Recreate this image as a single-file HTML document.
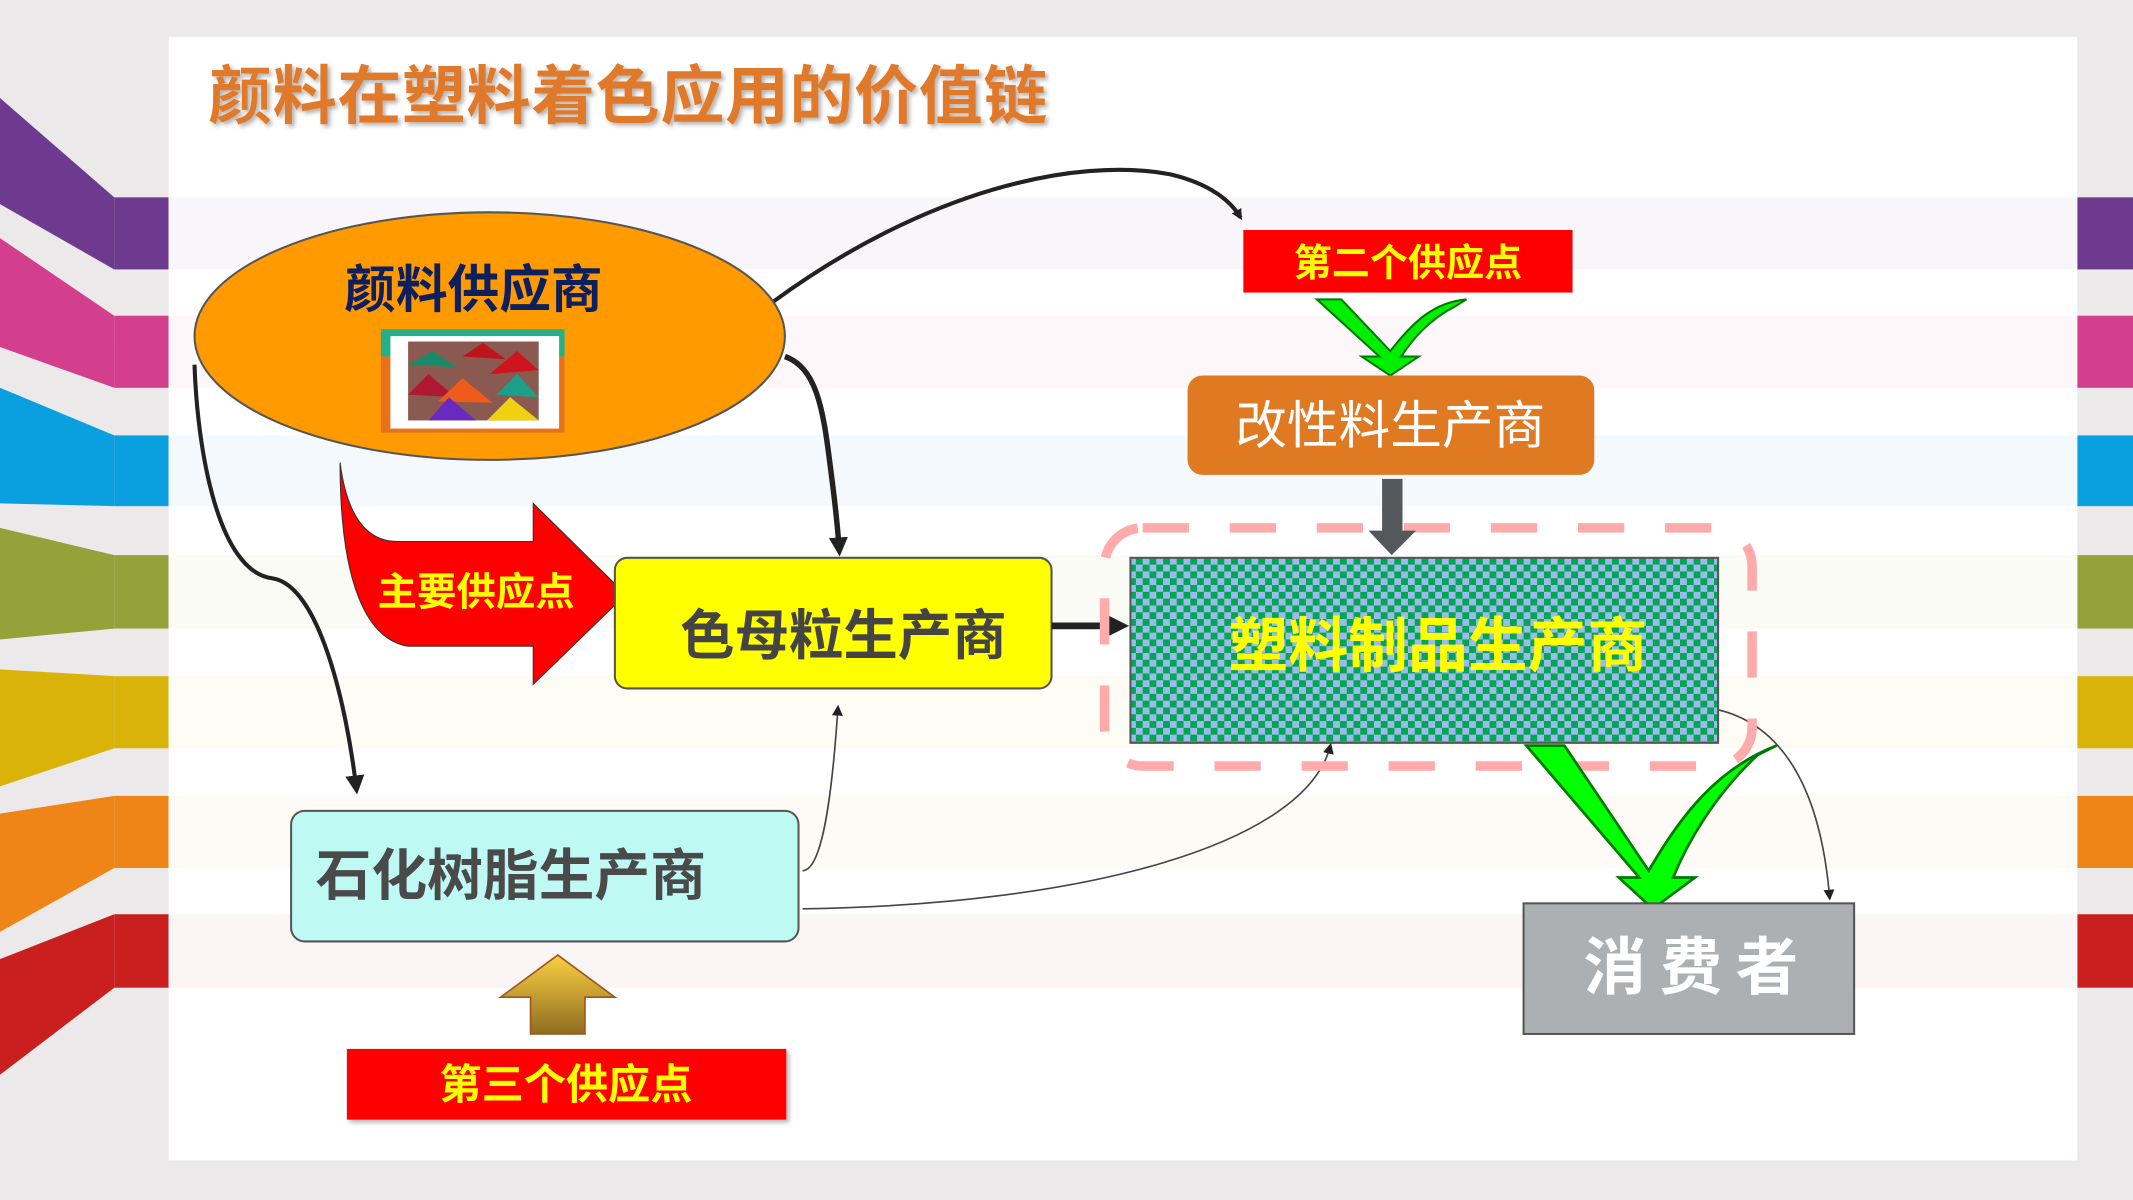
<!DOCTYPE html>
<html><head><meta charset="utf-8"><style>
html,body{margin:0;padding:0;background:#ebe9ea;}
svg{display:block;}
text{font-family:"Liberation Sans","Noto Sans CJK SC",sans-serif;}
</style></head><body>
<svg width="2133" height="1200" viewBox="0 0 1568 882" xmlns="http://www.w3.org/2000/svg">
<defs>
<pattern id="chk" width="10" height="10" patternUnits="userSpaceOnUse">
<rect width="10" height="10" fill="#00a651"/>
<rect width="5" height="5" fill="#9db9ee"/>
<rect x="5" y="5" width="5" height="5" fill="#9db9ee"/>
</pattern>
<linearGradient id="gold" x1="0" y1="0" x2="0" y2="1">
<stop offset="0" stop-color="#fbd043"/><stop offset="1" stop-color="#8e6d22"/>
</linearGradient>
<marker id="ah" markerWidth="8" markerHeight="8" refX="6" refY="4" orient="auto" markerUnits="userSpaceOnUse"><path d="M0,0 L8,4 L0,8 Z" fill="#222"/></marker>
<marker id="ahb" markerWidth="14" markerHeight="14" refX="10" refY="7" orient="auto" markerUnits="userSpaceOnUse"><path d="M0,0 L14,7 L0,14 Z" fill="#222"/></marker>
<filter id="sh"><feDropShadow dx="2" dy="2" stdDeviation="1.5" flood-color="#000" flood-opacity="0.3"/></filter>
</defs>
<rect width="1568" height="882" fill="#ebe9ea"/>
<polygon points="0,72 84,145 84,198 0,150" fill="#6e3a8f"/><rect x="84" y="145" width="40" height="53" fill="#6e3a8f"/>
<polygon points="0,175 84,232 84,285 0,255" fill="#d43f8d"/><rect x="84" y="232" width="40" height="53" fill="#d43f8d"/>
<polygon points="0,285 84,320 84,372 0,370" fill="#0aa0e0"/><rect x="84" y="320" width="40" height="52" fill="#0aa0e0"/>
<polygon points="0,388 84,408 84,462 0,470" fill="#94a23a"/><rect x="84" y="408" width="40" height="54" fill="#94a23a"/>
<polygon points="0,492 84,497 84,550 0,578" fill="#d9b20a"/><rect x="84" y="497" width="40" height="53" fill="#d9b20a"/>
<polygon points="0,598 84,585 84,638 0,685" fill="#ee8516"/><rect x="84" y="585" width="40" height="53" fill="#ee8516"/>
<polygon points="0,705 84,672 84,726 0,790" fill="#c9201f"/><rect x="84" y="672" width="40" height="54" fill="#c9201f"/>
<rect x="1527" y="145" width="41" height="53" fill="#6e3a8f"/>
<rect x="1527" y="232" width="41" height="53" fill="#d43f8d"/>
<rect x="1527" y="320" width="41" height="52" fill="#0aa0e0"/>
<rect x="1527" y="408" width="41" height="54" fill="#94a23a"/>
<rect x="1527" y="497" width="41" height="53" fill="#d9b20a"/>
<rect x="1527" y="585" width="41" height="53" fill="#ee8516"/>
<rect x="1527" y="672" width="41" height="54" fill="#c9201f"/>
<rect x="124" y="27" width="1403" height="826" fill="#ffffff"/>
<rect x="124" y="145" width="1403" height="53" fill="#f8f6fa"/>
<rect x="124" y="232" width="1403" height="53" fill="#fdf7fa"/>
<rect x="124" y="320" width="1403" height="52" fill="#f4f9fd"/>
<rect x="124" y="408" width="1403" height="54" fill="#fafbf5"/>
<rect x="124" y="497" width="1403" height="53" fill="#fdfcf5"/>
<rect x="124" y="585" width="1403" height="53" fill="#fefaf5"/>
<rect x="124" y="672" width="1403" height="54" fill="#fcf5f5"/>
<text x="153" y="87" font-size="47" font-weight="bold" fill="#e07a2a" filter="url(#sh)" letter-spacing="0.5">颜料在塑料着色应用的价值链</text>
<path d="M568,222 C680,140 790,115 860,128 C890,135 905,148 912,160" fill="none" stroke="#222" stroke-width="3" marker-end="url(#ah)"/>
<path d="M577,262 C600,270 605,300 610,340 C614,370 616,390 617,405" fill="none" stroke="#222" stroke-width="4" marker-end="url(#ahb)"/>
<path d="M143,268 C145,330 160,420 200,425 C235,430 255,520 262,580" fill="none" stroke="#222" stroke-width="3" marker-end="url(#ahb)"/>
<path d="M590,640 C605,640 612,580 616,520" fill="none" stroke="#444" stroke-width="1.2" marker-end="url(#ah)"/>
<path d="M590,668 C800,665 960,620 978,548" fill="none" stroke="#444" stroke-width="1.2" marker-end="url(#ah)"/>
<path d="M1240,519 C1320,520 1340,600 1345,660" fill="none" stroke="#444" stroke-width="1.2" marker-end="url(#ah)"/>
<ellipse cx="360" cy="247" rx="217" ry="91" fill="#ff9a00" stroke="#555" stroke-width="1.5"/>
<text x="348" y="226" font-size="38" font-weight="bold" fill="#0d1f5c" text-anchor="middle">颜料供应商</text>
<rect x="280" y="242" width="135" height="76" fill="#e8721c"/>
<rect x="280" y="242" width="135" height="20" fill="#25b089"/>
<rect x="287" y="247" width="124" height="68" fill="#fff"/>
<rect x="300" y="251" width="96" height="58" fill="#8a5a50"/>
<polygon points="300,268 318,258 336,270" fill="#1a8a6a"/><polygon points="340,262 355,252 372,264" fill="#c0141c"/>
<polygon points="360,275 380,258 396,272" fill="#d0141e"/><polygon points="300,290 315,275 335,292" fill="#b01830"/>
<polygon points="322,295 340,278 362,296" fill="#f05a1a"/><polygon points="365,290 380,275 396,292" fill="#1aa08a"/>
<polygon points="315,309 330,292 350,309" fill="#6a2ac0"/><polygon points="358,309 375,292 396,309" fill="#f0d010"/>
<path d="M250,340 C255,380 270,398 292,398 L392,398 L392,370 L460,437 L392,503 L392,475 L300,475 C270,470 250,430 250,340 Z" fill="#ff0000" stroke="#333" stroke-width="0.8"/>
<text x="350" y="445" font-size="29" font-weight="bold" fill="#ffff00" text-anchor="middle">主要供应点</text>
<rect x="452" y="410" width="321" height="96" rx="9" fill="#ffff00" stroke="#555" stroke-width="1.5"/>
<text x="620" y="481" font-size="40" font-weight="bold" fill="#444" text-anchor="middle">色母粒生产商</text>
<line x1="773" y1="460" x2="812" y2="460" stroke="#222" stroke-width="5"/>
<polygon points="810,450 830,460 810,470" fill="#222"/>
<rect x="812" y="388" width="476" height="175" rx="28" fill="none" stroke="#ffabab" stroke-width="7" stroke-dasharray="34,30"/>
<rect x="831" y="410" width="432" height="136" fill="url(#chk)" stroke="#555" stroke-width="1.5"/>
<text x="1057" y="490" font-size="44" font-weight="bold" fill="#ffff00" text-anchor="middle">塑料制品生产商</text>
<rect x="914" y="169" width="242" height="46" fill="#ff0000"/>
<text x="1035" y="203" font-size="28" font-weight="bold" fill="#ffff00" text-anchor="middle">第二个供应点</text>
<path d="M968,220 L986,220 L1022,258 C1040,235 1055,222 1078,220 L1070,225 C1050,235 1038,250 1030,262 L1043,262 L1022,276 L1001,262 L1014,262 Z" fill="#00ee00" stroke="#007a00" stroke-width="1.5"/>
<rect x="873" y="276" width="299" height="73" rx="11" fill="#e07a22"/>
<text x="1022" y="326" font-size="38" fill="#fff" text-anchor="middle">改性料生产商</text>
<rect x="1016" y="352" width="15" height="40" fill="#55585b"/>
<polygon points="1006,390 1041,390 1023,408" fill="#55585b"/>
<path d="M1122,548 L1150,548 L1212,640 C1235,600 1262,565 1306,548 L1292,555 C1260,585 1240,620 1230,645 L1246,645 L1215,668 L1190,645 L1205,645 Z" fill="#00ff00" stroke="#007a00" stroke-width="2"/>
<rect x="214" y="596" width="373" height="96" rx="10" fill="#bff9f4" stroke="#555" stroke-width="1.5"/>
<text x="232" y="658" font-size="41" font-weight="bold" fill="#4a4a4a">石化树脂生产商</text>
<polygon points="368,733 410,702 452,733 430,733 430,760 390,760 390,733" fill="url(#gold)" stroke="#a0561a" stroke-width="1.2"/>
<rect x="255" y="771" width="323" height="52" fill="#ff0000" filter="url(#sh)"/>
<text x="416" y="808" font-size="31" font-weight="bold" fill="#ffff00" text-anchor="middle">第三个供应点</text>
<rect x="1120" y="664" width="243" height="96" fill="#adb0b3" stroke="#555" stroke-width="1.5"/>
<text x="1248" y="727" font-size="46" font-weight="bold" fill="#fff" text-anchor="middle" letter-spacing="10">消费者</text>
</svg>
</body></html>
